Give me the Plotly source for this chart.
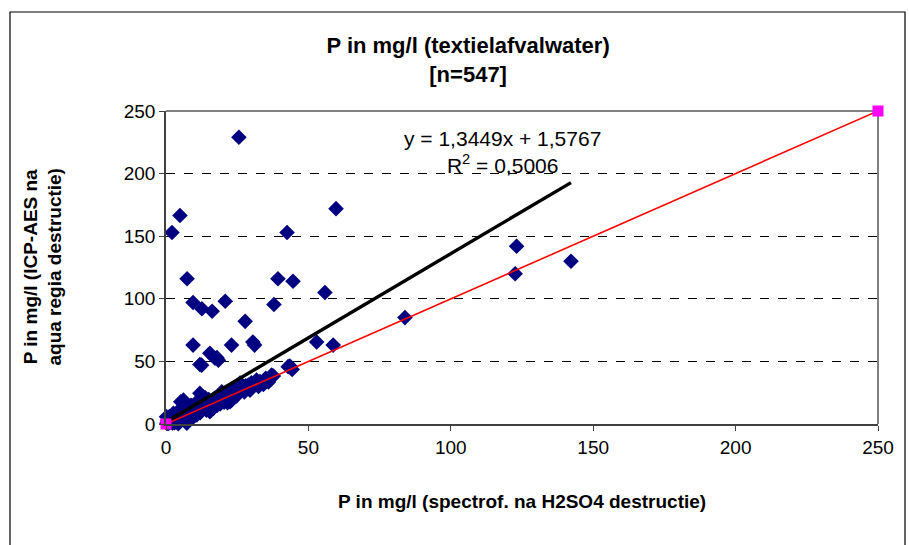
import plotly.graph_objects as go

# ---- data ----
spectrof_x = [
    25.6, 4.9, 2.1, 59.7, 42.5, 7.4, 39.3, 44.6, 55.8, 9.5, 12.6, 16.2, 20.8, 37.9, 27.8,
    9.5, 23.0, 30.5, 31.1, 15.4, 17.9, 11.9, 52.9, 58.7, 83.9, 123.1, 122.6, 142.2,
    0.3, 0.5, 0.8, 1.0, 1.2, 1.5, 1.8, 2.0, 2.3, 2.6, 3.0, 3.2, 3.5, 3.8, 4.0, 4.3, 4.5,
    5.0, 5.2, 5.6, 6.1, 6.1, 6.5, 7.0, 7.3, 7.5, 8.0, 8.5, 9.0, 9.2, 9.8, 10.2, 10.8,
    11.0, 11.5, 11.9, 12.3, 13.0, 13.5, 14.0, 14.6, 15.0, 15.4, 15.8, 16.6, 17.0, 17.5,
    18.2, 18.8, 19.6, 20.0, 20.6, 21.2, 22.0, 22.5, 23.1, 23.5, 24.2, 25.0, 26.0, 26.0,
    27.0, 28.0, 28.9, 30.0, 31.8, 31.8, 33.0, 35.0, 37.1, 37.7, 42.9, 43.5, 44.3,
    5.2, 2.6, 0.2, 12.5, 17.2, 18.4,
    1.5, 3.0, 4.8, 6.8, 8.2, 10.0, 12.0, 14.2, 16.0, 18.0, 20.4, 22.8, 24.8, 27.5, 29.5,
    32.5, 34.2, 36.0, 2.2, 4.0, 6.0, 8.8, 11.2, 13.8, 0.6, 1.2, 3.6, 7.8, 19.0, 21.6,
]
icp_y = [
    229.0, 166.5, 153.0, 172.0, 153.0, 116.0, 116.0, 114.0, 105.0, 97.0, 92.0, 90.0, 98.0, 95.5, 82.0,
    63.0, 63.0, 65.5, 63.0, 56.5, 53.0, 47.5, 65.5, 63.0, 85.0, 142.0, 120.0, 130.0,
    0.5, 1.2, 0.4, 2.0, 1.0, 3.0, 1.5, 2.6, 0.8, 4.0, 2.2, 5.5, 3.4, 3.2, 6.0, 0.2, 4.8,
    3.5, 7.5, 5.6, 8.0, 19.2, 6.2, 10.0, 0.6, 7.0, 12.0, 8.3, 7.2, 14.0, 10.5, 11.8, 7.2,
    16.0, 12.5, 24.5, 14.0, 13.5, 18.0, 15.5, 13.0, 19.5, 9.8, 17.0, 12.5, 20.5, 18.0,
    22.0, 19.5, 25.8, 21.5, 23.0, 20.0, 25.0, 17.8, 19.2, 27.0, 24.5, 28.0, 27.2, 32.7,
    29.0, 30.5, 31.2, 33.0, 35.1, 33.8, 34.0, 36.5, 39.1, 38.3, 45.8, 46.3, 43.6,
    17.8, 8.5, 5.8, 47.0, 52.5, 51.0,
    4.5, 1.0, 2.5, 4.2, 5.5, 6.5, 9.0, 11.0, 13.5, 15.0, 17.5, 21.0, 22.5, 25.5, 27.0,
    30.0, 31.5, 33.5, 7.0, 9.5, 11.5, 15.0, 18.5, 21.0, 3.0, 6.0, 1.8, 2.5, 16.0, 17.0,
]

ref_x = [0, 250]
ref_y = [0, 250]

trend_slope = 1.3449
trend_intercept = 1.5767
trend_x = [0, 142.2]
trend_y = [trend_intercept + trend_slope * v for v in trend_x]

tick_vals = [0, 50, 100, 150, 200, 250]
tick_text = ["0", "50", "100", "150", "200", "250"]

FONT = "Liberation Sans, Arial, sans-serif"

fig = go.Figure()

fig.add_trace(go.Scatter(
    x=spectrof_x, y=icp_y, mode="markers",
    marker=dict(symbol="diamond", size=12, color="#000080", line=dict(width=0)),
    showlegend=False, cliponaxis=False,
))
fig.add_trace(go.Scatter(
    x=trend_x, y=trend_y, mode="lines",
    line=dict(color="black", width=3.4), showlegend=False,
))
fig.add_trace(go.Scatter(
    x=ref_x, y=ref_y, mode="lines+markers",
    line=dict(color="#FF0000", width=1.6),
    marker=dict(symbol="square", size=11, color="#FF00FF"),
    showlegend=False, cliponaxis=False,
))

axis_common = dict(
    range=[0, 250], tickvals=tick_vals, ticktext=tick_text,
    ticks="outside", ticklen=5, tickcolor="#404040",
    showline=True, linecolor="#404040", linewidth=1.5,
    zeroline=False, tickfont=dict(family=FONT, size=19, color="black"),
    fixedrange=True,
)

fig.update_xaxes(**axis_common, showgrid=False)
fig.update_yaxes(**axis_common, showgrid=True, gridcolor="black", gridwidth=1, griddash="dash")

fig.update_layout(
    width=909, height=545,
    margin=dict(l=166, r=31, t=111, b=121),
    paper_bgcolor="white", plot_bgcolor="white",
    title=dict(
        text="<b>P in mg/l (textielafvalwater)<br>[n=547]</b>",
        font=dict(family=FONT, size=22, color="black"),
        xref="container", x=0.515, xanchor="center",
        yref="container", y=1 - 53 / 545, yanchor="middle",
    ),
    shapes=[
        # outer chart border
        dict(type="rect", xref="paper", yref="paper",
             x0=-156 / 712, x1=739 / 712, y0=-130 / 313, y1=412 / 313,
             line=dict(color="black", width=1.2), fillcolor="rgba(0,0,0,0)", layer="below"),
        # plot-area top and right border
        dict(type="line", xref="paper", yref="paper", x0=0, x1=1, y0=1, y1=1,
             line=dict(color="#808080", width=2), layer="between"),
        dict(type="line", xref="paper", yref="paper", x0=1, x1=1, y0=0, y1=1,
             line=dict(color="#808080", width=2), layer="between"),
    ],
    annotations=[
        dict(text="y = 1,3449x + 1,5767<br>R<sup>2</sup> = 0,5006",
             x=118, y=217, xref="x", yref="y", showarrow=False,
             font=dict(family=FONT, size=21, color="black"), align="center"),
        dict(text="<b>P in mg/l (spectrof. na H2SO4 destructie)</b>",
             xref="paper", yref="paper", x=0.5, y=-78 / 313, yanchor="middle",
             showarrow=False, font=dict(family=FONT, size=19, color="black")),
        dict(text="<b>P in mg/l (ICP-AES na<br>aqua regia destructie)</b>",
             xref="paper", yref="paper", x=-124 / 712, y=0.5, xanchor="center",
             textangle=-90, showarrow=False,
             font=dict(family=FONT, size=19, color="black"), align="center"),
    ],
)

fig.write_html("out.html")
